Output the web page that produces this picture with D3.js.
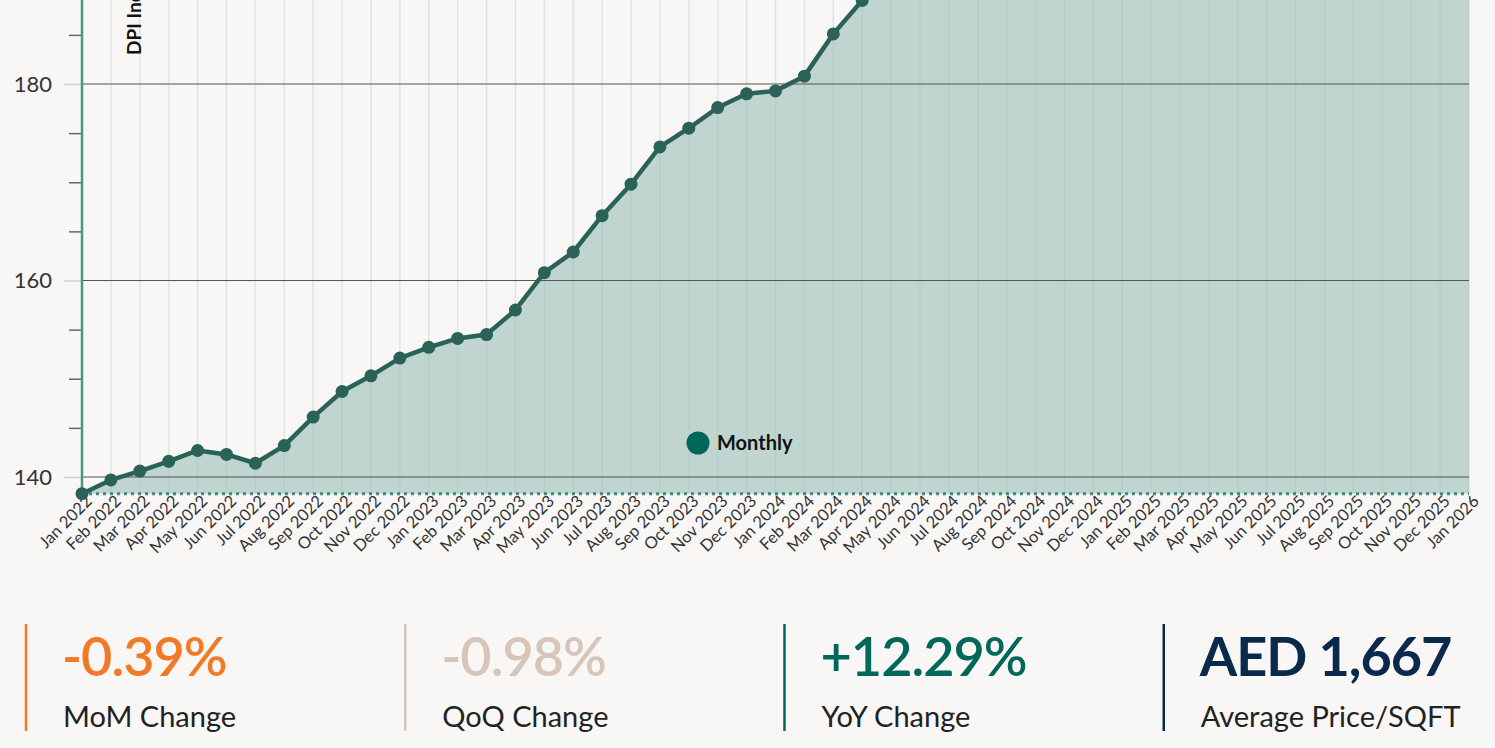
<!DOCTYPE html>
<html>
<head>
<meta charset="utf-8">
<script src="https://cdn.jsdelivr.net/npm/d3@7"></script>
<style>
  html, body { margin: 0; padding: 0; background: #f8f7f5; overflow: hidden; }
  body { font-family: Lato, "Open Sans", sans-serif; }
  .kpi-value { font-size: 54px; font-weight: 600; letter-spacing: -1px; }
  .kpi-label { font-size: 29px; font-weight: 400; fill: #222; }
  .tick-label { font-size: 22px; fill: #333; }
  .x-label { font-size: 16.5px; fill: #333; }
</style>
</head>
<body>
<svg class="chartSvg"></svg>
<script>
// monthly DPI index values, Jan 2022 - Jan 2026
const months = [
  "Jan 2022","Feb 2022","Mar 2022","Apr 2022","May 2022","Jun 2022","Jul 2022","Aug 2022","Sep 2022","Oct 2022","Nov 2022","Dec 2022",
  "Jan 2023","Feb 2023","Mar 2023","Apr 2023","May 2023","Jun 2023","Jul 2023","Aug 2023","Sep 2023","Oct 2023","Nov 2023","Dec 2023",
  "Jan 2024","Feb 2024","Mar 2024","Apr 2024","May 2024","Jun 2024","Jul 2024","Aug 2024","Sep 2024","Oct 2024","Nov 2024","Dec 2024",
  "Jan 2025","Feb 2025","Mar 2025","Apr 2025","May 2025","Jun 2025","Jul 2025","Aug 2025","Sep 2025","Oct 2025","Nov 2025","Dec 2025",
  "Jan 2026"
];
const indexValues = [
  138.3, 139.7, 140.6, 141.6, 142.7, 142.3, 141.4, 143.2, 146.1, 148.7, 150.3, 152.1,
  153.2, 154.1, 154.5, 157.0, 160.8, 162.9, 166.6, 169.8, 173.6, 175.5, 177.6, 179.0,
  179.3, 180.8, 185.1, 188.5, 190.6, 192.4, 194.0, 195.8, 197.3, 199.1, 200.6, 201.9,
  203.0, 205.2, 207.9, 210.8, 214.0, 217.3, 221.0, 224.6, 228.2, 230.3, 229.8, 228.9,
  228.0
];
const majorTicks = [140, 160, 180];
const minorTicks = [145, 150, 155, 165, 170, 175, 185];

const kpiValues = ["-0.39%", "-0.98%", "+12.29%", "AED 1,667"];
const kpiLabels = ["MoM Change", "QoQ Change", "YoY Change", "Average Price/SQFT"];
const kpiColors = ["#f27a26", "#d8c5ba", "#00685a", "#0a2a4c"];

const width = 1495;
const height = 748;

const data = months.map((m, i) => ({ month: m, value: indexValues[i] }));

const svg = d3.select(".chartSvg").attr("width", width).attr("height", height);
svg.selectAll("*").remove();

const xScale = d3.scalePoint()
  .domain(months)
  .range([82, 1469]);

// the view is scrolled: only the lower part of the plot is visible
const yScale = d3.scaleLinear()
  .domain([140, 180])
  .range([477, 84]);

const baseValue = d3.min(indexValues);
const baseY = yScale(baseValue);

const chart = svg.append("g").attr("class", "inner_chart");

// area
const area = d3.area()
  .x(d => xScale(d.month))
  .y0(baseY)
  .y1(d => yScale(d.value));

chart.append("path")
  .datum(data)
  .attr("d", area)
  .attr("fill", "#c1d5d0");

// vertical month grid
chart.selectAll(".vgrid")
  .data(months.slice(1))
  .join("line")
  .attr("class", "vgrid")
  .attr("x1", d => xScale(d))
  .attr("x2", d => xScale(d))
  .attr("y1", -10)
  .attr("y2", baseY)
  .attr("stroke", "#9cc0b7")
  .attr("stroke-opacity", 0.3)
  .attr("stroke-width", 1.5);

// horizontal major grid
chart.selectAll(".hgrid")
  .data(majorTicks)
  .join("line")
  .attr("class", "hgrid")
  .attr("x1", xScale(months[0]))
  .attr("x2", xScale(months[months.length - 1]))
  .attr("y1", d => yScale(d))
  .attr("y2", d => yScale(d))
  .attr("stroke", "#555")
  .attr("stroke-width", 1.2);

// dotted baseline
chart.append("line")
  .attr("x1", xScale(months[0]))
  .attr("x2", xScale(months[months.length - 1]))
  .attr("y1", baseY)
  .attr("y2", baseY)
  .attr("stroke", "#3d8a7d")
  .attr("stroke-width", 3)
  .attr("stroke-dasharray", "3,4");

// y axis: major ticks with labels, minor ticks without
const yAxisMajor = d3.axisLeft(yScale).tickValues(majorTicks).tickSize(18).tickPadding(12);
const yMajor = chart.append("g")
  .attr("class", "y-axis")
  .attr("transform", `translate(${xScale(months[0])},0)`)
  .call(yAxisMajor);
yMajor.select(".domain").remove();
yMajor.selectAll("line").attr("stroke", "#d0d0d0").attr("stroke-width", 1.5);
yMajor.selectAll("text").attr("class", "tick-label").attr("fill", "#333").style("font-family", "Lato, sans-serif");

const yAxisMinor = d3.axisLeft(yScale).tickValues(minorTicks).tickSize(13).tickFormat("");
const yMinor = chart.append("g")
  .attr("transform", `translate(${xScale(months[0])},0)`)
  .call(yAxisMinor);
yMinor.select(".domain").remove();
yMinor.selectAll("line").attr("stroke", "#666").attr("stroke-width", 1.5);

// axis line
chart.append("line")
  .attr("x1", xScale(months[0]))
  .attr("x2", xScale(months[0]))
  .attr("y1", -10)
  .attr("y2", baseY)
  .attr("stroke", "#4f9386")
  .attr("stroke-width", 2.5);

// x axis labels
const xAxis = d3.axisBottom(xScale).tickSize(0).tickPadding(0);
const xg = chart.append("g")
  .attr("class", "x-axis")
  .attr("transform", `translate(0,${baseY + 12})`)
  .call(xAxis);
xg.select(".domain").remove();
xg.selectAll("text")
  .attr("class", "x-label")
  .attr("fill", "#333")
  .style("font-family", "Lato, sans-serif")
  .attr("text-anchor", "end")
  .attr("dx", "0.6em")
  .attr("dy", "0.3em")
  .attr("transform", "rotate(-45)");

// line + points
const line = d3.line()
  .x(d => xScale(d.month))
  .y(d => yScale(d.value));

chart.append("path")
  .datum(data)
  .attr("d", line)
  .attr("fill", "none")
  .attr("stroke", "#2a6257")
  .attr("stroke-width", 4.5)
  .attr("stroke-linejoin", "round");

chart.selectAll(".pt")
  .data(data)
  .join("circle")
  .attr("class", "pt")
  .attr("cx", d => xScale(d.month))
  .attr("cy", d => yScale(d.value))
  .attr("r", 6.5)
  .attr("fill", "#2a6257");

// y axis title (cut off by the top of the view)
chart.append("text")
  .attr("transform", `translate(141,55) rotate(-90)`)
  .attr("text-anchor", "start")
  .style("font-family", "Lato, sans-serif")
  .style("font-size", "19px")
  .style("font-weight", 700)
  .attr("fill", "#111")
  .text("DPI Index");

// legend
const legend = chart.append("g").attr("transform", "translate(698,443)");
legend.append("circle").attr("r", 11.5).attr("fill", "#00665a");
legend.append("text")
  .attr("x", 19)
  .attr("y", 7)
  .style("font-family", "Lato, sans-serif")
  .style("font-size", "20px")
  .style("font-weight", 700)
  .attr("fill", "#111")
  .text("Monthly");

// KPI cards
const kpiX = d3.scaleBand().domain(d3.range(4)).range([25, 1542]);
const kpi = svg.append("g").attr("class", "kpis")
  .selectAll("g")
  .data(kpiValues)
  .join("g")
  .attr("transform", (d, i) => `translate(${kpiX(i)},0)`);

kpi.append("line")
  .attr("x1", 1).attr("x2", 1)
  .attr("y1", 624).attr("y2", 731)
  .attr("stroke", (d, i) => kpiColors[i])
  .attr("stroke-width", 2.5);

kpi.append("text")
  .attr("class", "kpi-value")
  .attr("x", 37)
  .attr("y", 676)
  .attr("fill", (d, i) => kpiColors[i])
  .style("font-weight", (d, i) => i === 3 ? 700 : 600)
  .text(d => d);

kpi.append("text")
  .attr("class", "kpi-label")
  .attr("x", 38)
  .attr("y", 727)
  .text((d, i) => kpiLabels[i]);
</script>
</body>
</html>
